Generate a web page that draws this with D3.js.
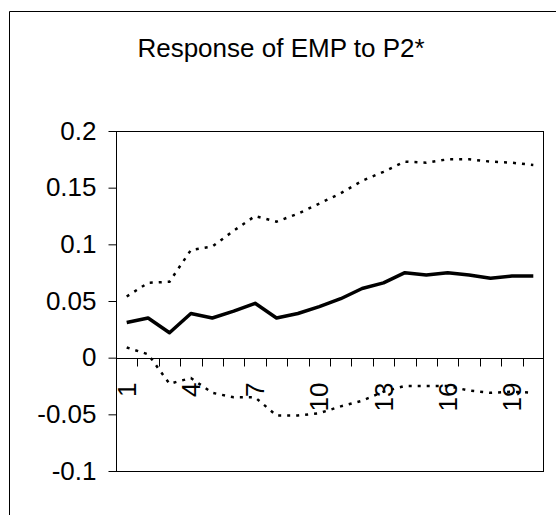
<!DOCTYPE html>
<html>
<head>
<meta charset="utf-8">
<script src="https://d3js.org/d3.v7.min.js"></script>
<style>
	body { margin: 0; background: #fff; }
	text { font-family: "Liberation Sans", Arial, sans-serif; fill: #000; }
</style>
</head>
<body>
<svg id="chart" width="556" height="515"></svg>
<script>
const periods = d3.range(1, 21);
const response = [0.031, 0.035, 0.022, 0.039, 0.035, 0.041, 0.048, 0.035, 0.039, 0.045,
	0.052, 0.061, 0.066, 0.075, 0.073, 0.075, 0.073, 0.070, 0.072, 0.072];
const upperBand = [0.054, 0.066, 0.067, 0.095, 0.098, 0.112, 0.125, 0.120, 0.127, 0.136,
	0.145, 0.156, 0.164, 0.173, 0.172, 0.175, 0.175, 0.173, 0.172, 0.170];
const lowerBand = [0.009, 0.003, -0.023, -0.018, -0.031, -0.035, -0.035, -0.051, -0.051, -0.049,
	-0.043, -0.038, -0.030, -0.025, -0.025, -0.025, -0.029, -0.031, -0.030, -0.031];
const yTicks = [-0.1, -0.05, 0, 0.05, 0.1, 0.15, 0.2];
const xLabels = [1, 4, 7, 10, 13, 16, 19];

const svg = d3.select('#chart');
const plot = {left: 116, right: 544, top: 131, bottom: 471};
const fontSize = '26px';

// outer frame (only left and top edges show inside the crop)
svg.append('path')
	.attr('d', 'M9.5,515 V11.5 H556')
	.attr('fill', 'none')
	.attr('stroke', '#000')
	.attr('stroke-width', 1);

svg.append('text')
	.attr('x', 281)
	.attr('y', 57)
	.attr('text-anchor', 'middle')
	.style('font-size', fontSize)
	.text('Response of EMP to P2*');

const x = d3.scaleBand().domain(periods).range([plot.left, plot.right]);
const y = d3.scaleLinear().domain([-0.1, 0.2]).range([plot.bottom, plot.top]);

// plot box
svg.append('rect')
	.attr('x', plot.left + 0.5)
	.attr('y', plot.top + 0.5)
	.attr('width', plot.right - plot.left - 1)
	.attr('height', plot.bottom - plot.top)
	.attr('fill', 'none')
	.attr('stroke', '#000')
	.attr('stroke-width', 1);

// y axis, plain hyphen for negatives like the original
const yAxis = svg.append('g')
	.attr('transform', `translate(${plot.left + 0.5},0)`)
	.call(d3.axisLeft(y).tickValues(yTicks).tickSize(8).tickPadding(12)
		.tickFormat(d => String(+d.toFixed(2))));
yAxis.select('.domain').remove();
yAxis.selectAll('text')
	.style('font-size', fontSize)
	.style('font-family', '"Liberation Sans", Arial, sans-serif');

// x axis at zero, ticks on category boundaries
const zeroY = Math.round(y(0)) + 0.5;
svg.append('line')
	.attr('x1', plot.left).attr('x2', plot.right)
	.attr('y1', zeroY).attr('y2', zeroY)
	.attr('stroke', '#000');
svg.append('g').selectAll('line')
	.data(periods.slice(1))
	.join('line')
	.attr('x1', d => Math.round(x(d)) + 0.5)
	.attr('x2', d => Math.round(x(d)) + 0.5)
	.attr('y1', zeroY)
	.attr('y2', zeroY + 8)
	.attr('stroke', '#000');

svg.append('g').selectAll('text')
	.data(xLabels)
	.join('text')
	.attr('transform', d => `translate(${x(d) + x.bandwidth() / 2},${zeroY + 24}) rotate(-90)`)
	.attr('text-anchor', 'end')
	.attr('dy', '0.35em')
	.style('font-size', fontSize)
	.text(d => d);

const line = d3.line()
	.x((d, i) => x(periods[i]) + x.bandwidth() / 2)
	.y(d => y(d));

svg.append('path')
	.datum(upperBand)
	.attr('d', line)
	.attr('fill', 'none')
	.attr('stroke', '#000')
	.attr('stroke-width', 2.5)
	.attr('stroke-dasharray', '3,6');

svg.append('path')
	.datum(lowerBand)
	.attr('d', line)
	.attr('fill', 'none')
	.attr('stroke', '#000')
	.attr('stroke-width', 2.5)
	.attr('stroke-dasharray', '3,6');

svg.append('path')
	.datum(response)
	.attr('d', line)
	.attr('fill', 'none')
	.attr('stroke', '#000')
	.attr('stroke-width', 3.5)
	.attr('stroke-linejoin', 'round');
</script>
</body>
</html>
